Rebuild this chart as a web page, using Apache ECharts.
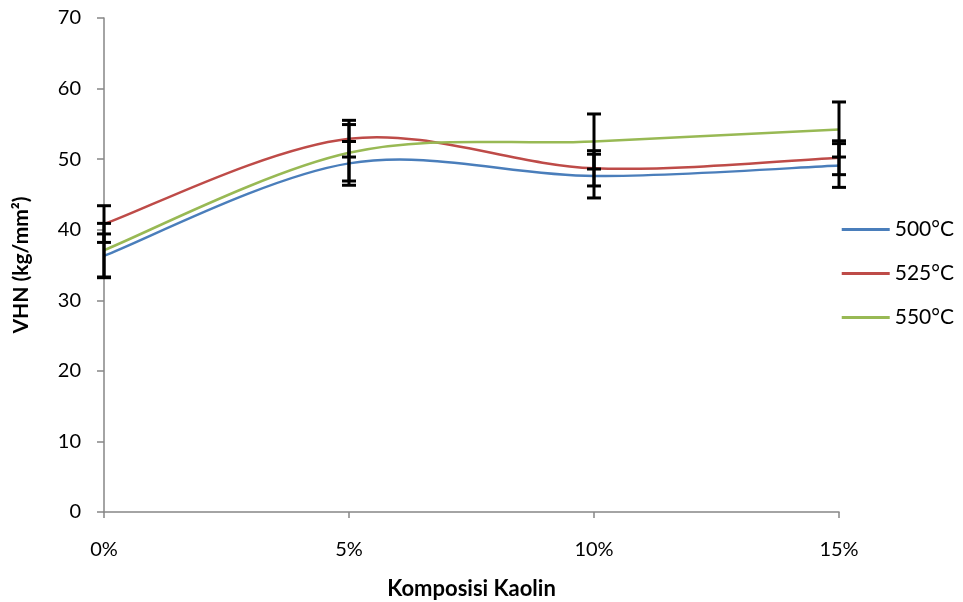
<!DOCTYPE html>
<html>
<head>
<meta charset="utf-8">
<script src="https://cdn.jsdelivr.net/npm/echarts@6/dist/echarts.min.js"></script>
<style>
html,body{margin:0;padding:0;background:#fff;}
#chart{width:963px;height:602px;}
</style>
</head>
<body>
<div id="chart"></div>
<script>
var categories = ['0%', '5%', '10%', '15%'];
var seriesNames = ['500°C', '525°C', '550°C'];
var values500 = [36.3, 49.4, 47.6, 49.1];
var values525 = [40.8, 52.9, 48.7, 50.2];
var values550 = [37.1, 50.9, 52.5, 54.2];
var err500 = [3.1, 3.1, 3.1, 3.1];
var err525 = [2.6, 2.6, 2.5, 2.4];
var err550 = [3.8, 4.0, 3.9, 3.9];
var colors = ['#4A7EBB', '#BE4B48', '#98B954'];

var FONT = 'Lato, "Open Sans", sans-serif';

var allVals = [values500, values525, values550];
var allErr = [err500, err525, err550];

// error-bar data: [categoryIndex, low, high]
var errData = [];
for (var s = 0; s < allVals.length; s++) {
  for (var i = 0; i < categories.length; i++) {
    errData.push([i, allVals[s][i] - allErr[s][i], allVals[s][i] + allErr[s][i]]);
  }
}

// smoothed segments (Excel-like): [i, vPrev, v1, v2, vNext]
function segmentData(vals) {
  var n = vals.length, out = [];
  for (var i = 0; i < n - 1; i++) {
    out.push([i, vals[Math.max(i - 1, 0)], vals[i], vals[i + 1], vals[Math.min(i + 2, n - 1)]]);
  }
  return out;
}

function makeSegRenderer(color) {
  var n = categories.length;
  return function (params, api) {
    var i = api.value(0);
    var p0 = api.coord([Math.max(i - 1, 0), api.value(1)]);
    var p1 = api.coord([i, api.value(2)]);
    var p2 = api.coord([i + 1, api.value(3)]);
    var p3 = api.coord([Math.min(i + 2, n - 1), api.value(4)]);
    var t = 1 / 6;
    return {
      type: 'bezierCurve',
      shape: {
        x1: p1[0], y1: p1[1], x2: p2[0], y2: p2[1],
        cpx1: p1[0] + (p2[0] - p0[0]) * t, cpy1: p1[1] + (p2[1] - p0[1]) * t,
        cpx2: p2[0] - (p3[0] - p1[0]) * t, cpy2: p2[1] - (p3[1] - p1[1]) * t
      },
      style: { stroke: color, lineWidth: 2.5, fill: null }
    };
  };
}

function renderErr(params, api) {
  var lo = api.coord([api.value(0), api.value(1)]);
  var hi = api.coord([api.value(0), api.value(2)]);
  var hw = 7;
  var st = { stroke: '#000', lineWidth: 3 };
  return {
    type: 'group',
    children: [
      { type: 'line', shape: { x1: lo[0], y1: lo[1], x2: hi[0], y2: hi[1] }, style: st },
      { type: 'line', shape: { x1: lo[0] - hw, y1: lo[1], x2: lo[0] + hw, y2: lo[1] }, style: st },
      { type: 'line', shape: { x1: hi[0] - hw, y1: hi[1], x2: hi[0] + hw, y2: hi[1] }, style: st }
    ]
  };
}

var series = [];
for (var k = 0; k < seriesNames.length; k++) {
  series.push({
    name: seriesNames[k],
    type: 'custom',
    renderItem: makeSegRenderer(colors[k]),
    data: segmentData(allVals[k]),
    encode: { x: 0, y: [1, 2, 3, 4] },
    itemStyle: { color: colors[k] },
    z: 2,
    silent: true
  });
}
series.push({
  type: 'custom',
  renderItem: renderErr,
  data: errData,
  encode: { x: 0, y: [1, 2] },
  z: 5,
  silent: true
});

var chart = echarts.init(document.getElementById('chart'));
chart.setOption({
  animation: false,
  backgroundColor: '#fff',
  grid: { left: 104, right: 124, top: 18, bottom: 90, outerBoundsMode: 'none', containLabel: false },
  legend: {
    orient: 'vertical',
    right: 4,
    top: 214,
    itemWidth: 48,
    itemHeight: 3,
    itemGap: 23,
    icon: 'rect',
    data: seriesNames,
    textStyle: { fontFamily: FONT, fontSize: 21, color: '#000' }
  },
  xAxis: {
    type: 'category',
    data: categories,
    boundaryGap: false,
    name: 'Komposisi Kaolin',
    nameLocation: 'middle',
    nameGap: 66,
    nameTextStyle: { fontFamily: FONT, fontSize: 22, fontWeight: 'bold', color: '#000' },
    axisLine: { lineStyle: { color: '#868686', width: 1.5 } },
    axisTick: { show: true, length: 6, alignWithLabel: true, lineStyle: { color: '#868686', width: 1.5 } },
    axisLabel: { fontFamily: FONT, fontSize: 20, color: '#000', margin: 28 },
    splitLine: { show: false }
  },
  yAxis: {
    type: 'value',
    min: 0,
    max: 70,
    interval: 10,
    name: 'VHN (kg/mm²)',
    nameLocation: 'middle',
    nameGap: 72,
    nameRotate: 90,
    nameTextStyle: { fontFamily: FONT, fontSize: 21, fontWeight: 'bold', color: '#000' },
    axisLine: { show: true, lineStyle: { color: '#868686', width: 1.5 } },
    axisTick: { show: true, length: 7, lineStyle: { color: '#868686', width: 1.5 } },
    axisLabel: { fontFamily: FONT, fontSize: 20, color: '#000', margin: 23 },
    splitLine: { show: false }
  },
  series: series
});
</script>
</body>
</html>
